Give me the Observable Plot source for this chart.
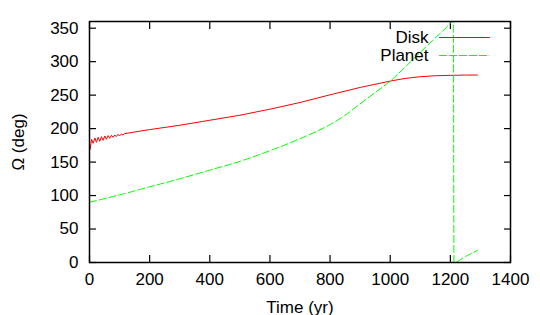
<!DOCTYPE html>
<html><head><meta charset="utf-8">
<script src="https://cdn.jsdelivr.net/npm/d3@7"></script>
<script src="https://cdn.jsdelivr.net/npm/@observablehq/plot@0.6"></script>
<style>body{margin:0;background:#fff;}</style>
</head><body><div id="chart"></div>
<script>
const xTicks = [0, 200, 400, 600, 800, 1000, 1200, 1400];
const yTicks = [0, 50, 100, 150, 200, 250, 300, 350];
const seriesNames = ["Disk", "Planet"];

const diskYears = [2,7,12,18,23,29,34,40,45,51,56,62,67,73,78,84,89,95,100,106,111,117,125,150,200,300,400,500,600,700,800,900,1000,1050,1100,1150,1200,1250,1290];
const diskOmega = [169,184,178,186,179.5,187,181,188,182.5,189,184,189.5,185.5,190,187,190.5,188,191.5,189,192,190.5,192.5,193,195,198.5,205,212.5,220,229,239,250.5,261.5,271,275,277.5,279,279.5,280,280];

const planetYears = [0,100,200,300,400,500,600,700,800,850,900,950,1000,1050,1100,1200,1210,1212,1250,1290];
const planetOmega = [90,101,113,125,138,151,167,185,206,220,237,254,271,292,314,357,361.5,0,9,18];

const disk = diskYears.map((t, i) => ({t, v: diskOmega[i]}));
const planet = planetYears.map((t, i) => ({t, v: planetOmega[i]}));

const lineShape = {draw(context, l) { context.moveTo(0, 0); context.lineTo(0, -l); }};
const red = "#ff0000", green = "#00ff00", dash = "7,3";
const fs = 17;

const chart = Plot.plot({
  width: 540, height: 315,
  marginLeft: 89, marginRight: 30, marginTop: 21, marginBottom: 53,
  style: {fontFamily: '"Liberation Sans", Arial, sans-serif', fontSize: fs + "px", color: "#000", background: "#fff"},
  x: {domain: [0, 1400]},
  y: {domain: [0, 360]},
  marks: [
    Plot.axisX(xTicks, {tickSize: -7, tickPadding: 17, strokeWidth: 1.2, fontSize: fs, tickFormat: d => String(d), label: "Time (yr)", labelAnchor: "center", labelArrow: "none"}),
    Plot.axisX(xTicks, {anchor: "top", tickSize: -7, strokeWidth: 1.2, fill: "none", label: null}),
    Plot.axisY(yTicks, {tickSize: -7, tickPadding: 18, strokeWidth: 1.2, fontSize: fs, tickFormat: d => String(d), label: "Ω (deg)", labelAnchor: "center", labelArrow: "none", labelOffset: 78}),
    Plot.axisY(yTicks, {anchor: "right", tickSize: -7, strokeWidth: 1.2, fill: "none", label: null}),
    Plot.line(disk, {x: "t", y: "v", stroke: red, strokeWidth: 1, clip: true}),
    Plot.line(planet, {x: "t", y: "v", stroke: green, strokeWidth: 1, strokeDasharray: dash, curve: "monotone-x", clip: true}),
    Plot.frame({stroke: "#000", strokeWidth: 1.5}),
    Plot.text([seriesNames[0]], {frameAnchor: "top-right", dx: -82, dy: 16, textAnchor: "end", lineAnchor: "middle", fontSize: fs}),
    Plot.text([seriesNames[1]], {frameAnchor: "top-right", dx: -82, dy: 34, textAnchor: "end", lineAnchor: "middle", fontSize: fs}),
    Plot.vector([0], {frameAnchor: "top-right", dx: -71, dy: 16, length: 50, rotate: 90, anchor: "start", shape: lineShape, stroke: red, strokeWidth: 1}),
    Plot.vector([0], {frameAnchor: "top-right", dx: -71, dy: 34, length: 50, rotate: 90, anchor: "start", shape: lineShape, stroke: green, strokeWidth: 1, strokeDasharray: dash})
  ]
});
document.getElementById("chart").appendChild(chart);
</script>
</body></html>
